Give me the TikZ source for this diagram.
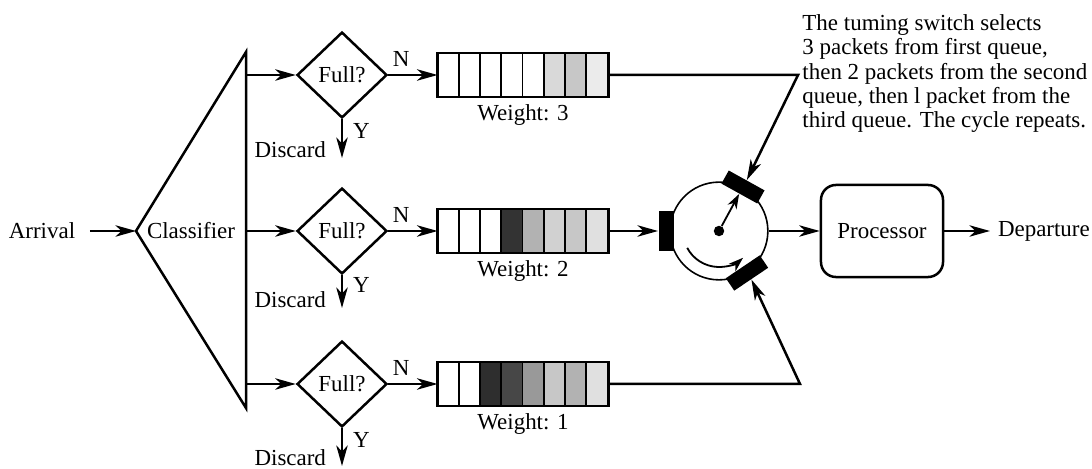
\documentclass[tikz,border=0pt]{standalone}
\usepackage{fontspec}
\setmainfont{Liberation Serif}
\usetikzlibrary{shapes.geometric,arrows.meta,positioning,calc}

\tikzset{
  wire/.style={line width=1.1pt},
  arr/.style={wire, -{Stealth[length=9pt,width=5pt,inset=2.6pt]}},
  ptr/.style={line width=0.8pt, -{Stealth[length=6.5pt,width=4.4pt,inset=2pt]}},
  test/.style={draw, diamond, line width=1.1pt, aspect=1, inner sep=0pt,
    minimum width=39.6pt, minimum height=37.8pt},
  queue/.style={minimum width=74.8pt, minimum height=18.9pt, inner sep=0pt},
  block/.style={fill=black, minimum width=6.6pt, minimum height=18pt, inner sep=0pt},
}

\begin{document}
\begin{tikzpicture}[x=0.44pt, y=0.44pt, font=\fontsize{10.1}{10.7}\selectfont]
    \useasboundingbox (0,0) rectangle (1092,469);

    % Arrival and classifier
    \node (arr) at (42,238) {Arrival};
    \coordinate (cin) at (136,238);
    \coordinate (ctop) at (246,417);
    \coordinate (cbot) at (246,61);
    \draw[wire, line join=miter] (cin) -- (ctop) -- (cbot) -- cycle;
    \node (cls) at (191,238) {Classifier};
    \draw[arr, shorten <=3pt] (arr.east) -- (cin);

    % Three branches: test and queue
    \foreach \r/\y/\w in {1/394/3, 2/238/2, 3/85/1} {
        \coordinate (c\r) at (246,\y);
        \node[test] (f\r) at (342,\y) {Full?};
        \node[queue] (q\r) at (523,\y) {};
        \node[below=0pt of q\r] (w\r) {Weight: \w};
        \draw[arr] (c\r) -- (f\r.west);
        \draw[arr] (f\r.east) -- node[above, pos=0.26] (n\r) {N} (q\r.west);
    }

    % Discard outputs
    \coordinate (e1) at (342,311);
    \coordinate (e2) at (342,161);
    \coordinate (e3) at (342,3);
    \foreach \r in {1,2,3} {
        \node[anchor=base east] (dis\r) at ($(e\r)+(-8,0)$) {Discard};
        \draw[arr] (f\r.south) -- node[right=1pt, pos=0.3] (y\r) {Y} (e\r);
    }

    % Packets waiting in the queues
    \foreach \r/\k/\c in {1/6/15, 1/7/22, 1/8/8,
                          2/4/80, 2/5/30, 2/6/18, 2/7/22, 2/8/12,
                          3/3/82, 3/4/72, 3/5/40, 3/6/22, 3/7/30, 3/8/12}
        \fill[black!\c] ($(q\r.south west)+({(\k-1)*21.25},0)$) rectangle ($(q\r.north west)+(\k*21.25,0)$);
    \foreach \r in {1,2,3} {
        \foreach \k in {1,...,7}
            \draw[line width=0.8pt] ($(q\r.south west)+(\k*21.25,0)$) -- ($(q\r.north west)+(\k*21.25,0)$);
        \draw[wire] (q\r.south west) rectangle (q\r.north east);
    }

    % Turning switch
    \node[draw, circle, line width=0.7pt, minimum size=43pt, inner sep=0pt] (sw) at (719,238) {};
    \node[circle, fill, minimum size=4.6pt, inner sep=0pt] (hub) at (sw.center) {};
    \node[block] (b2) at (666,238) {};
    \node[block, rotate=61] (b1) at (743,282) {};
    \node[block, rotate=-56] (b3) at (747,196) {};
    \draw[ptr] (hub) -- (b1.west);
    \draw[ptr] ($(hub)+(208:36)$) arc (208:312:36);

    % Queues to the switch
    \coordinate (k1) at (798,394);
    \coordinate (k3) at (800,85);
    \draw[arr] (q1.east) -- (k1) -- (b1.east);
    \draw[arr] (q2.east) -- (b2.west);
    \draw[arr] (q3.east) -- (k3) -- (b3.east);

    % Processor and departure
    \node[draw, rounded corners=6.6pt, line width=1.1pt, minimum width=53.7pt, minimum height=40.5pt] (proc) at (882,238) {Processor};
    \node[anchor=west] (dep) at (990,238) {Departure};
    \draw[arr] (sw.east) -- (proc.west);
    \draw[arr] (proc.east) -- (dep.west);

    % Note
    \node[anchor=north west, align=left, inner sep=0pt] (note) at (802,455)
        {The tuming switch selects\\3 packets from first queue,\\then 2 packets from the second\\queue, then l packet from the\\third queue. The cycle repeats.};
\end{tikzpicture}
\end{document}
